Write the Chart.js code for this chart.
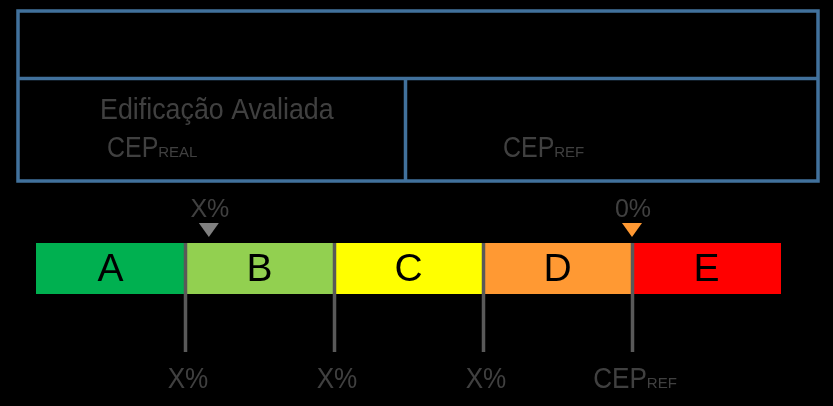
<!DOCTYPE html>
<html>
<head>
<meta charset="utf-8">
<script src="https://cdn.jsdelivr.net/npm/chart.js@4.4.1/dist/chart.umd.min.js"></script>
<style>
html,body{margin:0;padding:0;background:#000;}
#wrap{width:833px;height:406px;}
</style>
</head>
<body>
<div id="wrap"><canvas id="c" width="833" height="406"></canvas></div>
<script>
// ---- data ----
const classes = ['A', 'B', 'C', 'D', 'E'];
const classSpans = [1, 1, 1, 1, 1];
const classColors = ['#00B050', '#92D050', '#FFFF00', '#FF9933', '#FF0000'];
const limitLabels = ['X%', 'X%', 'X%', 'CEP|REF'];
const markerValues = [1.16, 4.0];
const markerLabels = ['X%', '0%'];
const markerColors = ['#808080', '#FF9933'];
const tableTitle = 'Edificação Avaliada';
const tableLeftLabel = 'CEP|REAL';
const tableRightLabel = 'CEP|REF';

const TEXT_GRAY = '#404040';
const FONT = '"Liberation Sans", Arial, sans-serif';

function drawSubText(ctx, label, x, y, size, subSize, align, sx) {
  const parts = label.split('|');
  ctx.save();
  ctx.font = size + 'px ' + FONT;
  const w1 = ctx.measureText(parts[0]).width * sx;
  ctx.font = subSize + 'px ' + FONT;
  const w2 = parts[1] ? ctx.measureText(parts[1]).width : 0;
  const total = w1 + w2;
  let left = x;
  if (align === 'center') left = x - total / 2;
  ctx.textAlign = 'left';
  ctx.textBaseline = 'alphabetic';
  ctx.fillStyle = TEXT_GRAY;
  ctx.save();
  ctx.translate(left, y);
  ctx.scale(sx, 1);
  ctx.font = size + 'px ' + FONT;
  ctx.fillText(parts[0], 0, 0);
  ctx.restore();
  if (parts[1]) {
    ctx.font = subSize + 'px ' + FONT;
    ctx.fillText(parts[1], left + w1, y);
  }
  ctx.restore();
}

const decor = {
  id: 'decor',
  beforeDraw(chart) {
    const ctx = chart.ctx;
    ctx.save();
    ctx.fillStyle = '#000';
    ctx.fillRect(0, 0, chart.width, chart.height);
    // table frame
    ctx.strokeStyle = '#41719C';
    ctx.lineWidth = 3.5;
    ctx.strokeRect(18, 11, 800, 170);
    ctx.beginPath();
    ctx.moveTo(18, 78.5); ctx.lineTo(818, 78.5);
    ctx.moveTo(405.5, 78.5); ctx.lineTo(405.5, 181);
    ctx.stroke();
    ctx.restore();
    // table texts
    ctx.save();
    ctx.translate(100, 119);
    ctx.scale(0.925, 1);
    ctx.fillStyle = TEXT_GRAY;
    ctx.font = '29px ' + FONT;
    ctx.fillText(tableTitle, 0, 0);
    ctx.restore();
    drawSubText(ctx, tableLeftLabel, 107, 157, 29, 15, 'left', 0.86);
    drawSubText(ctx, tableRightLabel, 503, 157, 29, 15, 'left', 0.86);
  },
  afterDatasetsDraw(chart) {
    const ctx = chart.ctx;
    const xs = chart.scales.x;
    const area = chart.chartArea;
    // class letters
    ctx.save();
    ctx.fillStyle = '#000';
    ctx.font = '39px ' + FONT;
    ctx.textAlign = 'center';
    ctx.textBaseline = 'middle';
    chart.data.datasets.forEach((ds, i) => {
      const el = chart.getDatasetMeta(i).data[0];
      ctx.fillText(ds.label, (el.x + el.base) / 2, el.y + 2);
    });
    ctx.restore();
    // limit lines and labels
    let cum = 0;
    for (let i = 0; i < classSpans.length - 1; i++) {
      cum += classSpans[i];
      const px = Math.round(xs.getPixelForValue(cum)) + 0.5;
      ctx.save();
      ctx.strokeStyle = '#595959';
      ctx.lineWidth = 3.5;
      ctx.beginPath();
      ctx.moveTo(px, area.top);
      ctx.lineTo(px, 352);
      ctx.stroke();
      ctx.restore();
      drawSubText(ctx, limitLabels[i], px + 2.5, 388, 29, 15, 'center', 0.9);
    }
    // markers
    markerValues.forEach((v, i) => {
      const px = xs.getPixelForValue(v);
      ctx.save();
      ctx.fillStyle = markerColors[i];
      ctx.beginPath();
      ctx.moveTo(px - 10, 223);
      ctx.lineTo(px + 10, 223);
      ctx.lineTo(px, 237);
      ctx.closePath();
      ctx.fill();
      ctx.fillStyle = TEXT_GRAY;
      ctx.font = '25px ' + FONT;
      ctx.textAlign = 'center';
      ctx.textBaseline = 'alphabetic';
      ctx.fillText(markerLabels[i], px + 1, 217);
      ctx.restore();
    });
  }
};

new Chart(document.getElementById('c'), {
  type: 'bar',
  data: {
    labels: ['Classe'],
    datasets: classes.map((c, i) => ({
      label: c,
      data: [classSpans[i]],
      backgroundColor: classColors[i],
      borderWidth: 0,
      barPercentage: 1,
      categoryPercentage: 1
    }))
  },
  options: {
    indexAxis: 'y',
    responsive: false,
    animation: false,
    devicePixelRatio: 1,
    layout: { padding: { left: 36, right: 52, top: 243, bottom: 112 } },
    scales: {
      x: { stacked: true, min: 0, max: classSpans.reduce((a, b) => a + b, 0), display: false },
      y: { stacked: true, display: false }
    },
    plugins: { legend: { display: false }, tooltip: { enabled: false } }
  },
  plugins: [decor]
});
</script>
</body>
</html>
